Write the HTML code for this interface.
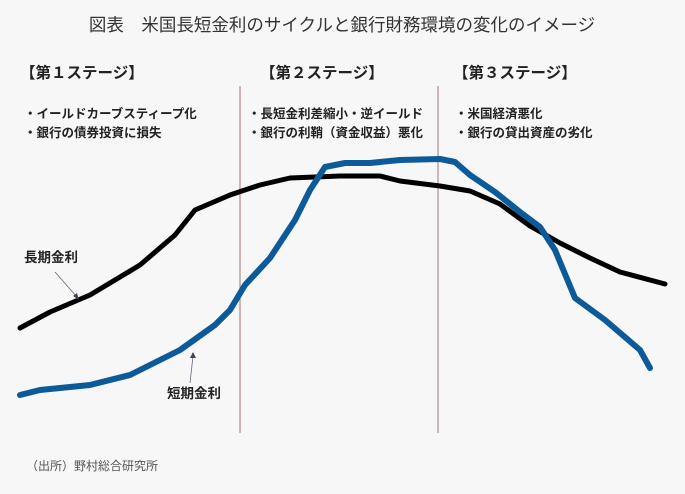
<!DOCTYPE html>
<html><head><meta charset="utf-8"><style>
body{margin:0;background:#f7f7f7;}
svg{display:block;font-family:"Liberation Sans","Noto Sans CJK JP",sans-serif;}
</style></head><body>
<svg width="685" height="494" viewBox="0 0 685 494">
<rect width="685" height="494" fill="#f7f7f7"/>
<text x="342" y="31" text-anchor="middle" font-size="17.5" fill="#333">図表　米国長短金利のサイクルと銀行財務環境の変化のイメージ</text>
<g font-size="15.5" font-weight="bold" fill="#222">
<text x="20" y="78">【第１ステージ】</text>
<text x="260" y="78">【第２ステージ】</text>
<text x="453" y="78">【第３ステージ】</text>
</g>
<g font-size="12.5" font-weight="bold" fill="#222">
<text x="24" y="118">・イールドカーブスティープ化</text>
<text x="24" y="137">・銀行の債券投資に損失</text>
<text x="248" y="118">・長短金利差縮小・逆イールド</text>
<text x="248" y="137">・銀行の利鞘（資金収益）悪化</text>
<text x="455" y="118">・米国経済悪化</text>
<text x="455" y="137">・銀行の貸出資産の劣化</text>
</g>
<line x1="240" y1="86" x2="240" y2="433" stroke="#b89090" stroke-width="1.3"/>
<line x1="438" y1="86" x2="438" y2="433" stroke="#b89090" stroke-width="1.3"/>
<polyline fill="none" stroke="#000" stroke-width="5" stroke-linecap="round" stroke-linejoin="round"
points="20,328 50,312 90,295 140,265 175,235 195,210 230,195 260,185 290,178 340,176 380,176 400,181 440,186 470,191 500,204 530,226 560,243 590,258 620,272 665,284"/>
<polyline fill="none" stroke="#0d5a9a" stroke-width="6" stroke-linecap="round" stroke-linejoin="round"
points="20,395 40,390 90,385 130,375 180,350 215,325 230,310 245,285 270,258 295,220 310,190 325,167 345,163 370,163 400,160 440,159 455,162 470,175 495,192 520,212 540,227 555,250 575,298 605,320 640,350 650,368"/>
<g font-size="13.5" font-weight="bold" fill="#222">
<text x="24" y="262">長期金利</text>
<text x="167" y="398">短期金利</text>
</g>
<line x1="55" y1="272" x2="77" y2="297" stroke="#667" stroke-width="0.8"/>
<polygon points="79,300 73,296 77,293" fill="#445"/>
<line x1="190" y1="383" x2="193" y2="356" stroke="#667" stroke-width="0.8"/>
<polygon points="193,352 190,358 196,358" fill="#445"/>
<text x="26" y="470" font-size="12" fill="#555">（出所）野村総合研究所</text>
</svg>
</body></html>
